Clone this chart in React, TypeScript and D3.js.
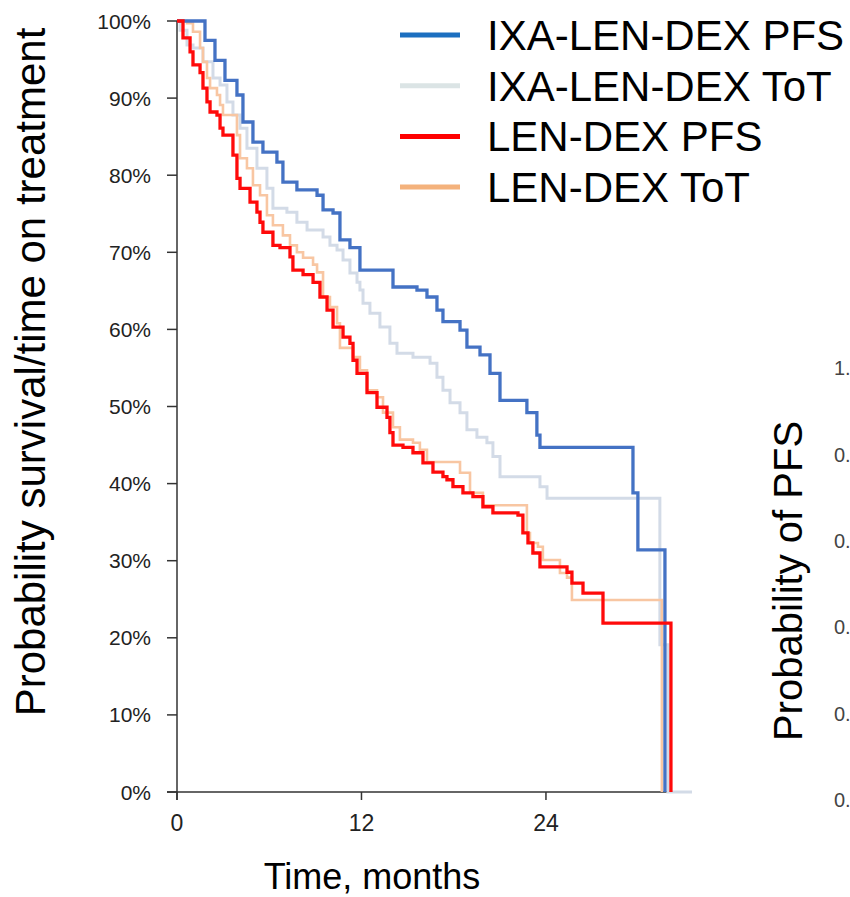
import React from "react"
import * as d3 from "d3"

// time axis, months
const xTicks = [0, 12, 24]
const yTicks = [0, 10, 20, 30, 40, 50, 60, 70, 80, 90, 100]
// the neighbouring chart's tick labels, as far as they show before the edge
const rightTicks = ["1.", "0.", "0.", "0.", "0.", "0."]

const legendLabels = ["IXA-LEN-DEX PFS", "IXA-LEN-DEX ToT", "LEN-DEX PFS", "LEN-DEX ToT"]

// IXA-LEN-DEX PFS
const ixaPfsMonths = [0, 1.04, 1.82, 2.47, 3.12, 3.9, 4.29, 4.94, 5.59, 6.5, 6.89, 7.8, 9.11, 9.5, 10.15, 10.6, 11.25, 11.9, 14.05, 15.61, 16.26, 16.91, 17.3, 18.41, 18.86, 19.71, 20.36, 21.01, 22.76, 23.41, 23.61, 29.66, 29.98, 31.74]
const ixaPfsPct = [100, 100, 97.5, 94.9, 92.3, 90.4, 86.9, 84.3, 83.0, 81.7, 79.1, 78.1, 77.4, 75.5, 75.1, 71.6, 70.6, 67.7, 65.5, 65.1, 64.2, 62.5, 61.0, 59.9, 57.7, 56.7, 54.3, 50.8, 49.2, 46.3, 44.7, 38.8, 31.4, 0]

// IXA-LEN-DEX time on treatment
const ixaTotMonths = [0, 0.2, 0.65, 1.04, 1.69, 2.34, 2.8, 3.25, 3.64, 4.1, 4.55, 5.2, 5.85, 6.24, 7.15, 7.8, 8.46, 9.5, 9.95, 10.41, 10.8, 11.25, 11.71, 11.9, 12.1, 12.55, 13.2, 13.85, 14.31, 15.35, 16.46, 16.91, 17.3, 17.76, 18.41, 18.86, 19.51, 20.16, 20.55, 21.01, 23.61, 24.07, 31.41, 31.93, 33.5]
const ixaTotPct = [100, 98.8, 96.9, 96.5, 94.7, 92.6, 91.7, 89.5, 87.8, 86.1, 83.5, 80.9, 78.3, 75.7, 75.2, 73.9, 72.9, 72.0, 70.9, 70.3, 69.0, 67.3, 66.1, 65.1, 63.4, 62.1, 60.3, 58.2, 56.9, 56.4, 55.6, 53.8, 52.1, 50.5, 49.2, 47.0, 46.0, 45.3, 43.5, 40.9, 39.6, 38.1, 19.1, 0, 0]

// LEN-DEX PFS
const lenPfsMonths = [0, 0.39, 0.85, 1.04, 1.5, 1.69, 1.95, 2.15, 2.6, 2.8, 2.99, 3.64, 3.9, 4.1, 4.75, 5.2, 5.4, 5.59, 6.24, 6.7, 7.35, 7.54, 8.2, 8.85, 9.3, 9.76, 10.15, 10.8, 11.25, 11.45, 11.71, 12.36, 13.01, 13.66, 13.85, 14.05, 14.7, 15.35, 16.0, 16.65, 17.3, 17.56, 17.95, 18.6, 19.25, 19.9, 20.55, 22.18, 22.5, 22.83, 23.15, 23.61, 25.37, 25.69, 26.41, 27.71, 32.13]
const lenPfsPct = [100, 97.8, 96.0, 94.3, 93.3, 91.3, 89.5, 88.2, 87.8, 86.1, 85.2, 82.6, 79.6, 78.3, 76.5, 75.2, 73.9, 72.6, 70.9, 70.6, 69.4, 67.7, 67.1, 66.1, 64.2, 62.5, 60.3, 59.0, 58.2, 56.0, 54.3, 51.8, 49.9, 48.6, 46.6, 45.0, 44.7, 44.0, 42.7, 41.5, 40.9, 40.5, 39.6, 38.8, 38.3, 37.0, 36.2, 35.9, 33.6, 32.3, 31.0, 29.2, 28.5, 27.1, 25.8, 21.9, 0]

// LEN-DEX time on treatment
const lenTotMonths = [0, 0.65, 1.04, 1.5, 1.69, 1.95, 2.15, 2.6, 2.8, 2.99, 3.9, 4.1, 4.55, 4.94, 5.4, 5.85, 6.24, 6.89, 7.35, 7.8, 8.2, 8.85, 9.11, 9.5, 9.95, 10.41, 10.6, 11.45, 11.9, 12.36, 13.01, 13.4, 14.05, 14.5, 15.35, 15.8, 16.26, 18.41, 19.06, 19.9, 22.76, 22.96, 23.48, 23.8, 24.91, 25.37, 25.69, 31.54]
const lenTotPct = [100, 99.7, 98.6, 96.5, 94.7, 92.6, 91.3, 90.4, 89.1, 87.8, 85.2, 82.2, 80.9, 78.7, 77.4, 74.8, 73.5, 72.2, 70.9, 70.0, 69.3, 68.4, 67.4, 64.2, 62.9, 60.8, 57.6, 56.4, 54.7, 52.1, 51.2, 49.2, 47.3, 45.7, 45.3, 44.4, 42.8, 41.4, 38.8, 37.2, 33.6, 32.3, 31.8, 30.1, 28.4, 27.8, 24.9, 0]

const series = [
	{ months: ixaTotMonths, pct: ixaTotPct, color: "#d3dbe7", width: 3 },
	{ months: lenTotMonths, pct: lenTotPct, color: "#f8c6a2", width: 2.6 },
	{ months: ixaPfsMonths, pct: ixaPfsPct, color: "#4472c4", width: 3.3 },
	{ months: lenPfsMonths, pct: lenPfsPct, color: "#ff0a0a", width: 3.3 },
]
const legendColors = ["#1c6fc0", "#dbe4e5", "#ff0000", "#f4b27c"]

const FONT = "'Liberation Sans', Arial, sans-serif"

export default function App() {
	const x = d3.scaleLinear().domain([0, 33.5]).range([177, 692])
	const y = d3.scaleLinear().domain([0, 100]).range([792, 21])

	const line = d3
		.line<[number, number]>()
		.x(d => x(d[0]))
		.y(d => y(d[1]))
		.curve(d3.curveStepAfter)

	return (
		<svg
			width={850}
			height={897}
			style={{ position: "absolute", left: 0, top: 0, background: "#fff" }}
			fontFamily={FONT}
		>
			{/* y axis */}
			<line x1={177} x2={177} y1={y(100)} y2={800} stroke="#333" strokeWidth={1.5} />
			{yTicks.map(t => (
				<g key={t}>
					<line x1={167} x2={177} y1={y(t)} y2={y(t)} stroke="#333" strokeWidth={1.5} />
					<text x={151} y={y(t)} dy="0.36em" textAnchor="end" fontSize={21} fill="#222">
						{t}%
					</text>
				</g>
			))}

			{/* x axis */}
			<line x1={167} x2={x(33.5)} y1={y(0)} y2={y(0)} stroke="#333" strokeWidth={1.5} />
			{xTicks.map(t => (
				<g key={t}>
					<line x1={x(t)} x2={x(t)} y1={y(0)} y2={800} stroke="#333" strokeWidth={1.5} />
					<text x={x(t)} y={831} textAnchor="middle" fontSize={23} fill="#222">
						{t}
					</text>
				</g>
			))}

			{/* curves */}
			{series.map((s, i) => (
				<path
					key={i}
					d={line(s.months.map((m, j) => [m, s.pct[j]] as [number, number])) || ""}
					fill="none"
					stroke={s.color}
					strokeWidth={s.width}
				/>
			))}

			{/* axis titles */}
			<text
				transform="translate(45,372) rotate(-90)"
				textAnchor="middle"
				fontSize={42}
				fill="#000"
			>
				Probability survival/time on treatment
			</text>
			<text x={372} y={889} textAnchor="middle" fontSize={36} fill="#000">
				Time, months
			</text>

			{/* legend */}
			{legendLabels.map((lab, i) => (
				<g key={lab} transform={`translate(0, ${35 + i * 50.7})`}>
					<line x1={400} x2={460} y1={0} y2={0} stroke={legendColors[i]} strokeWidth={5} />
					<text x={487} y={15} fontSize={42} fill="#000">
						{lab}
					</text>
				</g>
			))}

			{/* neighbouring chart, cut off at the right edge */}
			<text
				transform="translate(802,581) rotate(-90)"
				textAnchor="middle"
				fontSize={40}
				fill="#000"
			>
				Probability of PFS
			</text>
			{rightTicks.map((lab, i) => (
				<text key={i} x={834} y={368 + i * 86.4} dy="0.36em" fontSize={20} fill="#444">
					{lab}
				</text>
			))}
		</svg>
	)
}
